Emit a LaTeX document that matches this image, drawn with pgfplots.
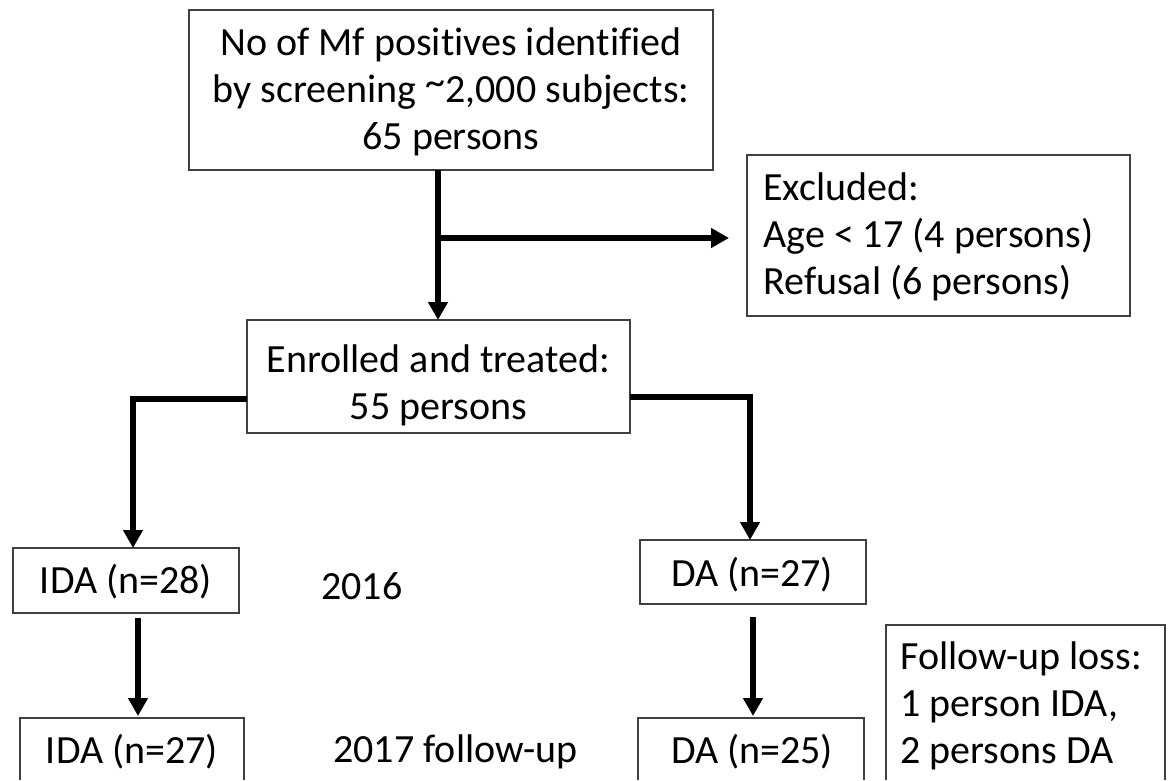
\documentclass[border=0pt]{standalone}
\usepackage{fontspec}
\setmainfont{Carlito}[Ligatures={NoCommon}]
\usepackage{pgfplots}
\pgfplotsset{compat=1.18}
\usetikzlibrary{arrows.meta}
\tikzset{
  box/.style={black!75, line width=0.9pt, line join=miter},
  arr/.style={black, line width=3pt, line join=miter, -{Triangle[length=9pt,width=9.5pt]}},
  txt/.style={font=\fontsize{20}{23.5}\selectfont, inner sep=0pt},
}
\begin{document}
\begin{tikzpicture}
\begin{axis}[
  scale only axis, width=586.5pt, height=390pt,
  xmin=0, xmax=1173, ymin=0, ymax=780, y dir=reverse,
  xtick=\empty, ytick=\empty, axis line style={draw=none},
  clip=false,
  every axis plot/.append style={mark=none},
]
% boxes
\addplot[box] coordinates {(189,10) (713,10) (713,170) (189,170) (189,10) (713,10)};
\addplot[box] coordinates {(747,155) (1130,155) (1130,316) (747,316) (747,155) (1130,155)};
\addplot[box] coordinates {(247,320) (630,320) (630,433) (247,433) (247,320) (630,320)};
\addplot[box] coordinates {(13,548) (239,548) (239,613) (13,613) (13,548) (239,548)};
\addplot[box] coordinates {(640,540) (866,540) (866,604) (640,604) (640,540) (866,540)};
\addplot[box] coordinates {(20,780) (20,718) (244,718) (244,780)};
\addplot[box] coordinates {(638,780) (638,718) (864,718) (864,780)};
\addplot[box] coordinates {(886,780) (886,625) (1165,625) (1165,780)};
% arrows and connectors
\addplot[arr] coordinates {(438,170) (438,320)};
\addplot[arr] coordinates {(438,238) (729,238)};
\addplot[arr] coordinates {(247,399) (133,399) (133,548)};
\addplot[arr] coordinates {(630,397) (750,397) (750,540)};
\addplot[arr] coordinates {(138,618) (138,716)};
\addplot[arr] coordinates {(753,617) (753,716)};
% texts
\node[txt, align=center] at (axis cs:451,92) {No of Mf positives identified\\by screening \raisebox{0.35ex}{\textasciitilde}2,000 subjects:\\65 persons};
\node[txt, align=left, anchor=west] at (axis cs:763,237) {Excluded:\\Age < 17 (4 persons)\\Refusal (6 persons)};
\node[txt, align=center] at (axis cs:438.5,385) {Enrolled and treated:\\55 persons};
\node[txt] at (axis cs:126,582) {IDA (n=28)};
\node[txt] at (axis cs:752,575) {DA (n=27)};
\node[txt] at (axis cs:132,752) {IDA (n=27)};
\node[txt] at (axis cs:752,752) {DA (n=25)};
\node[txt, anchor=west] at (axis cs:321,586) {2016};
\node[txt, anchor=west] at (axis cs:333,752) {2017 follow-up};
\node[txt, align=left, anchor=west] at (axis cs:900,706) {Follow-up loss:\\1 person IDA,\\2 persons DA};
\end{axis}
\end{tikzpicture}
\end{document}
